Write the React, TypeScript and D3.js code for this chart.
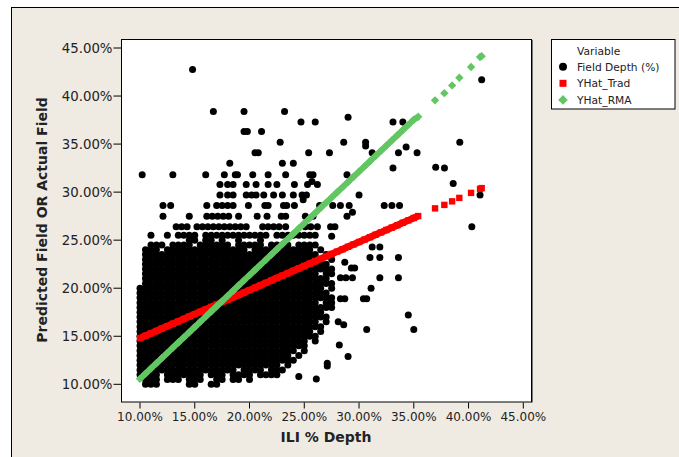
import React from 'react';
import * as d3 from 'd3';

const xTicks = [10, 15, 20, 25, 30, 35, 40, 45];
const yTicks = [10, 15, 20, 25, 30, 35, 40, 45];

// Row 0 is y = 25.5 %, each next row is 0.5 % lower; column 0 is x = 10.0 %, each next is 0.5 % higher.
const denseTop = 25.5;
const denseLeft = 10.0;
const denseStep = 0.5;
const denseRows = [
  '..#..#.####.############.########...',
  '.........##.##.#..#...#.............',
  '..###.####.######.#####.####.####...',
  '.###.###############.###########.#..',
  '.################################.#.',
  '.#################################.#',
  '.##################################.',
  '.###################################',
  '.################################.##',
  '.##################################.',
  '.###################################',
  '##################################.#',
  '###################################.',
  '####################################',
  '#################################.##',
  '####################################',
  '##################################..',
  '###################################.',
  '#################################.#.',
  '##################################..',
  '################################.#..',
  '#################################...',
  '###############################.#...',
  '###############################.....',
  '#############################.#.....',
  '############################.#......',
  '#############################.......',
  '##########################.#........',
  '##################.####.###.........',
  '####.#######.###.####.####..........',
  '.###.###.###..##.##.#...............',
  '.###.....##..##.....................',
];

// Scattered Field Depth observations (x %, y %)
const sparseField: [number, number][] = [
  [13.3, 26.4], [13.8, 26.4], [14.3, 26.4], [15.2, 26.4], [15.7, 26.4], [16.2, 26.4], [16.7, 26.4],
  [17.2, 26.4], [17.7, 26.4], [18.2, 26.4], [18.7, 26.4], [19.2, 26.4], [19.7, 26.4], [21.2, 26.4],
  [21.7, 26.4], [22.2, 26.4], [22.7, 26.4], [23.3, 26.4], [25.1, 26.4], [25.6, 26.4], [26.2, 26.4],
  [27.4, 26.4], [27.8, 26.4], [40.3, 26.4],
  [12.1, 27.5], [14.5, 27.5], [16.1, 27.5], [16.6, 27.5], [17.1, 27.5], [17.6, 27.5], [18.1, 27.5],
  [19.0, 27.5], [20.7, 27.5], [21.6, 27.5], [22.9, 27.5], [23.3, 27.5], [25.1, 27.5], [25.8, 27.5],
  [28.9, 27.5], [29.4, 27.9],
  [12.1, 28.6], [12.8, 28.6], [16.1, 28.6], [17.0, 28.6], [17.5, 28.6], [18.0, 28.6], [18.5, 28.6],
  [19.9, 28.6], [21.4, 28.6], [21.7, 28.6], [23.1, 28.6], [23.4, 28.6], [24.1, 28.6], [26.4, 28.6],
  [27.6, 28.6], [28.3, 28.6], [29.1, 28.6], [32.3, 28.6], [33.0, 28.6], [33.7, 28.6],
  [17.3, 29.7], [18.0, 29.7], [18.5, 29.7], [19.7, 29.7], [20.2, 29.7], [20.6, 29.7], [21.3, 29.7],
  [22.2, 29.7], [23.0, 29.7], [24.0, 29.7], [24.8, 29.7], [25.2, 29.7], [30.0, 29.7], [41.05, 29.7],
  [24.9, 29.2],
  [17.3, 30.8], [18.0, 30.8], [18.5, 30.8], [19.7, 30.8], [20.6, 30.8], [21.7, 30.8], [22.5, 30.8],
  [24.1, 30.8], [25.3, 30.8], [25.7, 31.1], [26.2, 30.8], [38.6, 30.9],
  [10.2, 31.8], [13.0, 31.8], [16.0, 31.8], [17.7, 31.8], [18.7, 31.8], [18.9, 31.8], [20.3, 31.8],
  [21.7, 31.8], [23.3, 31.8], [25.5, 31.8], [25.8, 31.8], [28.9, 31.8],
  [18.2, 33.0], [23.0, 33.0], [24.0, 33.0], [33.1, 32.5], [37.0, 32.6], [37.8, 32.5],
  [20.5, 34.1], [20.8, 34.1], [25.4, 34.1], [27.3, 34.1], [31.2, 34.1], [33.6, 34.1], [35.3, 34.1],
  [34.3, 34.7],
  [22.8, 35.2], [28.6, 35.2], [30.6, 35.2], [30.6, 34.8], [39.2, 35.2],
  [19.5, 36.3], [19.8, 36.3], [21.1, 36.3],
  [24.7, 37.3], [26.0, 37.3], [33.1, 37.3], [34.0, 37.3], [29.0, 37.8],
  [16.7, 38.4], [19.5, 38.4], [23.2, 38.4],
  [14.8, 42.75], [41.2, 41.7],
  [27.5, 25.4], [31.2, 24.3], [31.9, 24.3], [33.6, 23.2], [31.0, 23.2], [31.9, 23.2], [28.7, 22.7],
  [29.3, 22.1], [29.6, 22.1], [33.6, 21.1], [31.9, 21.1], [28.3, 21.1], [28.8, 21.1], [29.4, 21.1],
  [31.1, 20.0], [30.4, 18.9], [30.7, 18.9], [28.3, 18.9], [28.7, 18.9], [34.5, 17.2], [35.0, 15.7],
  [30.7, 15.7], [28.6, 16.2], [28.1, 16.5], [28.2, 14.1], [29.0, 12.9], [27.1, 12.2], [27.1, 11.9],
  [24.5, 10.8], [26.1, 10.55],
];

// Fitted values
const fitX = [
  10, 10.5, 11, 11.5, 12, 12.5, 13, 13.5, 14, 14.5, 15, 15.5, 16, 16.5, 17, 17.5, 18, 18.5, 19, 19.5,
  20, 20.5, 21, 21.5, 22, 22.5, 23, 23.5, 24, 24.5, 25, 25.5, 26, 26.5, 27, 27.5, 28, 28.5, 29, 29.5,
  30, 30.5, 31, 31.5, 32, 32.5, 33, 33.5, 34, 34.5, 35, 35.4, 36.94, 37.79, 38.5, 39.16, 40.23, 41.05, 41.2,
];
const tradY = [
  14.8, 15.05, 15.3, 15.55, 15.8, 16.05, 16.3, 16.55, 16.8, 17.05, 17.3, 17.55, 17.8, 18.05, 18.3, 18.55,
  18.8, 19.05, 19.3, 19.55, 19.8, 20.05, 20.31, 20.56, 20.81, 21.06, 21.31, 21.56, 21.81, 22.06, 22.31,
  22.56, 22.81, 23.06, 23.31, 23.56, 23.81, 24.06, 24.31, 24.56, 24.81, 25.06, 25.31, 25.56, 25.81, 26.06,
  26.31, 26.56, 26.81, 27.06, 27.31, 27.51, 28.31, 28.67, 29.04, 29.4, 29.92, 30.34, 30.42,
];
const rmaY = [
  10.57, 11.11, 11.65, 12.19, 12.73, 13.27, 13.81, 14.35, 14.88, 15.42, 15.96, 16.5, 17.04, 17.58, 18.12,
  18.66, 19.2, 19.74, 20.28, 20.82, 21.36, 21.9, 22.43, 22.97, 23.51, 24.05, 24.59, 25.13, 25.67, 26.21,
  26.75, 27.29, 27.83, 28.37, 28.91, 29.45, 29.99, 30.52, 31.06, 31.6, 32.14, 32.68, 33.22, 33.76, 34.3,
  34.84, 35.38, 35.92, 36.46, 37.0, 37.54, 37.85, 39.55, 40.3, 41.11, 41.9, 43.02, 44.06, 44.15,
];

const legendItems = ['Field Depth (%)', 'YHat_Trad', 'YHat_RMA'];

const RED = '#FF0000';
const GREEN = '#62C662';
const BG = '#EFEBE2';
const FONT = '"DejaVu Sans", Verdana, sans-serif';

function diamond(cx: number, cy: number, h: number) {
  return `M${cx},${cy - h}L${cx + h},${cy}L${cx},${cy + h}L${cx - h},${cy}Z`;
}

export default function App() {
  const W = 679, H = 457;
  const plot = { l: 121, t: 39, r: 531, b: 401.5 };
  const x = d3.scaleLinear().domain([10, 45]).range([140, 523.3]);
  const y = d3.scaleLinear().domain([10, 45]).range([384.3, 48]);

  const field: [number, number][] = [];
  denseRows.forEach((row, r) => {
    for (let c = 0; c < row.length; c++) {
      if (row[c] === '#') field.push([denseLeft + c * denseStep, denseTop - r * denseStep]);
    }
  });
  sparseField.forEach((p) => field.push(p));

  const trad: [number, number][] = fitX.map((v, i) => [v, tradY[i]]);
  const rma: [number, number][] = fitX.map((v, i) => [v, rmaY[i]]);
  const line = d3.line<[number, number]>().x((d) => x(d[0])).y((d) => y(d[1]));
  const contTrad = trad.filter((d) => d[0] <= 35.4);
  const contRma = rma.filter((d) => d[0] <= 35.4);
  const fmt = (v: number) => v.toFixed(2) + '%';

  return (
    <svg width={W} height={H} style={{ position: 'absolute', left: 0, top: 0, display: 'block' }}>
      <rect x={0} y={0} width={W} height={H} fill="#fff" />
      <rect x={11.5} y={7.5} width={W + 10} height={H + 10} fill={BG} stroke="#000" strokeWidth={1} />
      <rect x={plot.l + 0.5} y={plot.t + 0.5} width={plot.r - plot.l} height={plot.b - plot.t} fill="#fff" stroke="#000" strokeWidth={1} />
      <line x1={plot.r + 1.5} x2={plot.r + 1.5} y1={plot.t + 1} y2={plot.b + 1} stroke="#777" strokeWidth={1} />

      {/* Y axis ticks */}
      {yTicks.map((t) => (
        <g key={'y' + t}>
          <line x1={113.5} x2={plot.l} y1={y(t)} y2={y(t)} stroke="#000" strokeWidth={1} />
          <text x={112.5} y={y(t)} dy="0.36em" textAnchor="end" fontFamily={FONT} fontSize={13.3} fill="#222">{fmt(t)}</text>
        </g>
      ))}
      {/* X axis ticks */}
      {xTicks.map((t) => (
        <g key={'x' + t}>
          <line x1={x(t)} x2={x(t)} y1={plot.b + 1} y2={plot.b + 7} stroke="#000" strokeWidth={1} />
          <text x={x(t)} y={420.7} textAnchor="middle" fontFamily={FONT} fontSize={12} fill="#222">{fmt(t)}</text>
        </g>
      ))}

      <text x={326} y={441.5} textAnchor="middle" fontFamily={FONT} fontWeight="bold" fontSize={14} fill="#222">ILI % Depth</text>
      <text transform="translate(47,220) rotate(-90)" textAnchor="middle" fontFamily={FONT} fontWeight="bold" fontSize={14} fill="#222">Predicted Field OR Actual Field</text>

      {/* Field Depth dots */}
      <g fill="#000">
        {field.map((d, i) => (
          <circle key={i} cx={x(d[0])} cy={y(d[1])} r={3.5} />
        ))}
      </g>

      {/* YHat_Trad */}
      <path d={line(contTrad) || ''} fill="none" stroke={RED} strokeWidth={7} />
      <g fill={RED}>
        {trad.map((d, i) => (
          <rect key={i} x={x(d[0]) - 3.2} y={y(d[1]) - 3.2} width={6.4} height={6.4} />
        ))}
      </g>

      {/* YHat_RMA */}
      <path d={line(contRma) || ''} fill="none" stroke={GREEN} strokeWidth={6} />
      <g fill={GREEN}>
        {rma.map((d, i) => (
          <path key={i} d={diamond(x(d[0]), y(d[1]), 4.2)} />
        ))}
      </g>

      {/* Legend */}
      <rect x={551.5} y={39.5} width={123.5} height={69.5} fill="#fff" stroke="#000" strokeWidth={1} />
      <text x={577} y={55} fontFamily={FONT} fontSize={10.7} fill="#222">Variable</text>
      {legendItems.map((name, i) => {
        const cy = 66.7 + i * 16.6;
        return (
          <g key={name}>
            {i === 0 && <circle cx={563} cy={cy} r={4} fill="#000" />}
            {i === 1 && <rect x={559.5} y={cy - 3.5} width={7} height={7} fill={RED} />}
            {i === 2 && <path d={diamond(563, cy, 4.8)} fill={GREEN} />}
            <text x={577} y={cy} dy="0.36em" fontFamily={FONT} fontSize={10.7} fill="#222">{name}</text>
          </g>
        );
      })}
    </svg>
  );
}
